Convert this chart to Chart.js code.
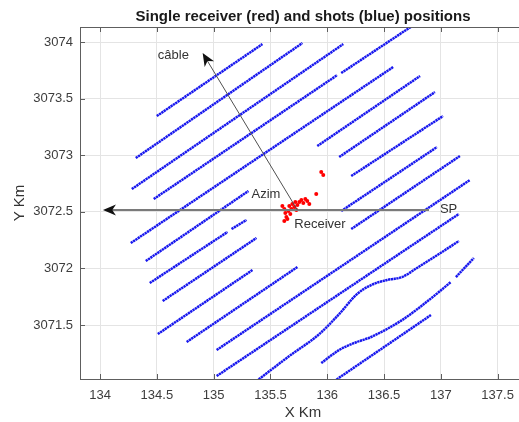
<!DOCTYPE html>
<html>
<head>
<meta charset="utf-8">
<script src="https://cdn.jsdelivr.net/npm/chart.js@4"></script>
<style>
  html, body { margin: 0; padding: 0; background: #fff; overflow: hidden; }
  #wrap { position: relative; width: 530px; height: 422px; }
</style>
</head>
<body>
<div id="wrap"><canvas id="c" width="530" height="422"></canvas></div>
<script>
// Axis ticks and limits (km)
const xTickValues = [134, 134.5, 135, 135.5, 136, 136.5, 137, 137.5];
const yTickValues = [3071.5, 3072, 3072.5, 3073, 3073.5, 3074];
const xRange = [133.823, 137.75];
const yRange = [3071.023, 3074.133];

// Shot lines, [x, y] in km; null breaks the line where shots are missing
const shotLine1 = [[134.499, 3073.346], [135.429, 3073.982]];
const shotLine2 = [[134.314, 3072.975], [135.781, 3073.991]];
const shotLine3 = [[134.279, 3072.701], [136.141, 3073.982]];
const shotLine4 = [[134.472, 3072.613], [136.088, 3073.708], null, [136.123, 3073.726], [136.773, 3074.159]];
const shotLine5 = [[134.270, 3072.224], [136.580, 3073.779]];
const shotLine6 = [[134.402, 3072.065], [135.306, 3072.684], null, [135.912, 3073.081], [136.817, 3073.700]];
const shotLine7 = [[134.437, 3071.871], [135.122, 3072.322], null, [135.157, 3072.348], [135.289, 3072.428], null, [136.105, 3072.984], [136.948, 3073.558]];
const shotLine8 = [[134.551, 3071.712], [135.377, 3072.269], null, [136.211, 3072.816], [137.019, 3073.346]];
const shotLine9 = [[134.508, 3071.420], [135.342, 3071.986], null, [136.123, 3072.507], [136.966, 3073.072]];
const shotLine10 = [[134.762, 3071.350], [135.737, 3072.012], null, [136.211, 3072.348], [137.168, 3072.993]];
const shotLine11 = [[135.026, 3071.279], [137.256, 3072.781]];
const shotLine12 = [[135.026, 3071.049], [137.159, 3072.481]];
const shotLine13 = [[135.377, 3071.005], [135.666, 3071.226], [135.930, 3071.420], [136.105, 3071.597], [136.263, 3071.774], [136.386, 3071.853], [136.527, 3071.898], [136.659, 3071.924], [136.790, 3072.004], [136.983, 3072.127], [137.159, 3072.242]];
const shotLine14 = [[135.947, 3071.164], [136.105, 3071.279], [136.237, 3071.341], [136.386, 3071.394], [136.659, 3071.544], [136.896, 3071.721], [137.089, 3071.880], null, [137.133, 3071.924], [137.291, 3072.092]];
const shotLine15 = [[136.062, 3071.005], [136.913, 3071.588]];

// Receiver positions (km)
const receiverX = [135.605, 135.622, 135.631, 135.640, 135.622, 135.658, 135.666, 135.675, 135.684, 135.693, 135.710, 135.719, 135.737, 135.754, 135.772, 135.789, 135.807, 135.824, 135.842, 135.728, 135.649, 135.903, 135.947, 135.965];
const receiverY = [3072.551, 3072.525, 3072.489, 3072.454, 3072.419, 3072.507, 3072.551, 3072.481, 3072.525, 3072.569, 3072.542, 3072.587, 3072.560, 3072.587, 3072.604, 3072.578, 3072.613, 3072.595, 3072.569, 3072.516, 3072.436, 3072.657, 3072.852, 3072.825];

// Annotation anchors (km)
const receiverPos = [135.737, 3072.516];
const cableTip = [134.903, 3073.903];
const spEnd = [136.896, 3072.516];
const azimuthTip = [134.025, 3072.516];
const labels = [
  { text: 'câble', at: [134.508, 3073.880] },
  { text: 'Azim', at: [135.333, 3072.657] },
  { text: 'Receiver', at: [135.710, 3072.392] },
  { text: 'SP', at: [136.992, 3072.525] }
];

const FONT = '"Liberation Sans", Arial, Helvetica, sans-serif';
const AXIS_COLOR = '#5e5e5e';
const TEXT_COLOR = '#333333';

const shotLines = [shotLine1, shotLine2, shotLine3, shotLine4, shotLine5, shotLine6, shotLine7,
  shotLine8, shotLine9, shotLine10, shotLine11, shotLine12, shotLine13, shotLine14, shotLine15];

// split every shot line into continuous runs
const datasets = [];
shotLines.forEach((line) => {
  let run = [];
  const flush = () => {
    if (run.length > 1) {
      datasets.push({
        data: run,
        showLine: true,
        borderColor: '#1717ee',
        borderWidth: 2.5,
        borderDash: [2.3, 0.5],
        pointRadius: 0,
        cubicInterpolationMode: run.length > 2 ? 'monotone' : 'default',
        fill: false
      });
    }
    run = [];
  };
  line.forEach((p) => {
    if (p === null) { flush(); } else { run.push({ x: p[0], y: p[1] }); }
  });
  flush();
});
datasets.push({
  data: receiverX.map((x, i) => ({ x: x, y: receiverY[i] })),
  showLine: false,
  pointRadius: 2,
  pointBorderWidth: 0,
  backgroundColor: '#ff0000',
  borderColor: '#ff0000'
});

function arrowHead(ctx, x0, y0, x1, y1, len, half) {
  const a = Math.atan2(y1 - y0, x1 - x0);
  ctx.save();
  ctx.translate(x1, y1);
  ctx.rotate(a);
  ctx.beginPath();
  ctx.moveTo(0, 0);
  ctx.lineTo(-len, -half);
  ctx.lineTo(-len * 0.72, 0);
  ctx.lineTo(-len, half);
  ctx.closePath();
  ctx.fillStyle = '#111';
  ctx.fill();
  ctx.restore();
}

const decorations = {
  id: 'decorations',
  afterDatasetsDraw(chart) {
    const ctx = chart.ctx;
    const xs = chart.scales.x, ys = chart.scales.y;
    const P = (p) => [xs.getPixelForValue(p[0]), ys.getPixelForValue(p[1])];
    const r = P(receiverPos), c = P(cableTip), s = P(spEnd), a = P(azimuthTip);

    ctx.save();
    // shot-point direction
    ctx.strokeStyle = '#7a7a7a';
    ctx.lineWidth = 2;
    ctx.beginPath();
    ctx.moveTo(s[0], s[1]);
    ctx.lineTo(a[0] + 8, a[1]);
    ctx.stroke();
    arrowHead(ctx, s[0], s[1], a[0], a[1], 13, 5.5);

    // cable direction
    ctx.strokeStyle = '#505050';
    ctx.lineWidth = 1;
    ctx.beginPath();
    ctx.moveTo(r[0], r[1]);
    const ang = Math.atan2(c[1] - r[1], c[0] - r[0]);
    ctx.lineTo(c[0] - Math.cos(ang) * 8, c[1] - Math.sin(ang) * 8);
    ctx.stroke();
    arrowHead(ctx, r[0], r[1], c[0], c[1], 13, 5.5);

    ctx.fillStyle = TEXT_COLOR;
    ctx.font = '13px ' + FONT;
    ctx.textAlign = 'left';
    ctx.textBaseline = 'middle';
    labels.forEach((l) => {
      const p = P(l.at);
      ctx.fillText(l.text, p[0], p[1]);
    });
    ctx.restore();
  },
  afterDraw(chart) {
    const ctx = chart.ctx;
    const area = chart.chartArea;
    const xs = chart.scales.x, ys = chart.scales.y;
    ctx.save();
    // axes box with inward ticks
    ctx.strokeStyle = AXIS_COLOR;
    ctx.lineWidth = 1;
    ctx.strokeRect(Math.round(area.left) + 0.5, Math.round(area.top) + 0.5,
      Math.round(area.right - area.left), Math.round(area.bottom - area.top));
    ctx.beginPath();
    xTickValues.forEach((v) => {
      const x = Math.round(xs.getPixelForValue(v)) + 0.5;
      ctx.moveTo(x, area.bottom); ctx.lineTo(x, area.bottom - 5);
      ctx.moveTo(x, area.top); ctx.lineTo(x, area.top + 5);
    });
    yTickValues.forEach((v) => {
      const y = Math.round(ys.getPixelForValue(v)) + 0.5;
      ctx.moveTo(area.left, y); ctx.lineTo(area.left + 5, y);
      ctx.moveTo(area.right, y); ctx.lineTo(area.right - 5, y);
    });
    ctx.stroke();

    const cx = (area.left + area.right) / 2;
    const cy = (area.top + area.bottom) / 2;
    ctx.fillStyle = '#1a1a1a';
    ctx.textAlign = 'center';
    ctx.textBaseline = 'middle';
    ctx.font = 'bold 15px ' + FONT;
    ctx.fillText('Single receiver (red) and shots (blue) positions', cx, 17);
    ctx.fillStyle = TEXT_COLOR;
    ctx.font = '15px ' + FONT;
    ctx.fillText('X Km', cx, 413);
    ctx.translate(20, cy);
    ctx.rotate(-Math.PI / 2);
    ctx.fillText('Y Km', 0, 0);
    ctx.restore();
  }
};

new Chart(document.getElementById('c'), {
  type: 'scatter',
  data: { datasets: datasets },
  options: {
    responsive: false,
    animation: false,
    devicePixelRatio: 1,
    layout: { padding: { left: 0, top: 27, right: 2.7, bottom: 0 } },
    plugins: { legend: { display: false }, title: { display: false }, tooltip: { enabled: false } },
    scales: {
      x: {
        type: 'linear',
        min: xRange[0],
        max: xRange[1],
        afterBuildTicks: (s) => { s.ticks = xTickValues.map((v) => ({ value: v })); },
        afterFit: (s) => { s.height = 43; },
        grid: { color: '#e4e4e4', lineWidth: 1, drawTicks: false },
        border: { display: false },
        ticks: {
          autoSkip: false, maxRotation: 0, padding: 9,
          color: '#3d3d3d', font: { family: FONT, size: 13 },
          callback: (v) => String(v)
        }
      },
      y: {
        type: 'linear',
        min: yRange[0],
        max: yRange[1],
        afterBuildTicks: (s) => { s.ticks = yTickValues.map((v) => ({ value: v })); },
        afterFit: (s) => { s.width = 80; },
        grid: { color: '#e4e4e4', lineWidth: 1, drawTicks: false },
        border: { display: false },
        ticks: {
          autoSkip: false, padding: 7,
          color: '#3d3d3d', font: { family: FONT, size: 13 },
          callback: (v) => String(v)
        }
      }
    }
  },
  plugins: [decorations]
});
</script>
</body>
</html>
